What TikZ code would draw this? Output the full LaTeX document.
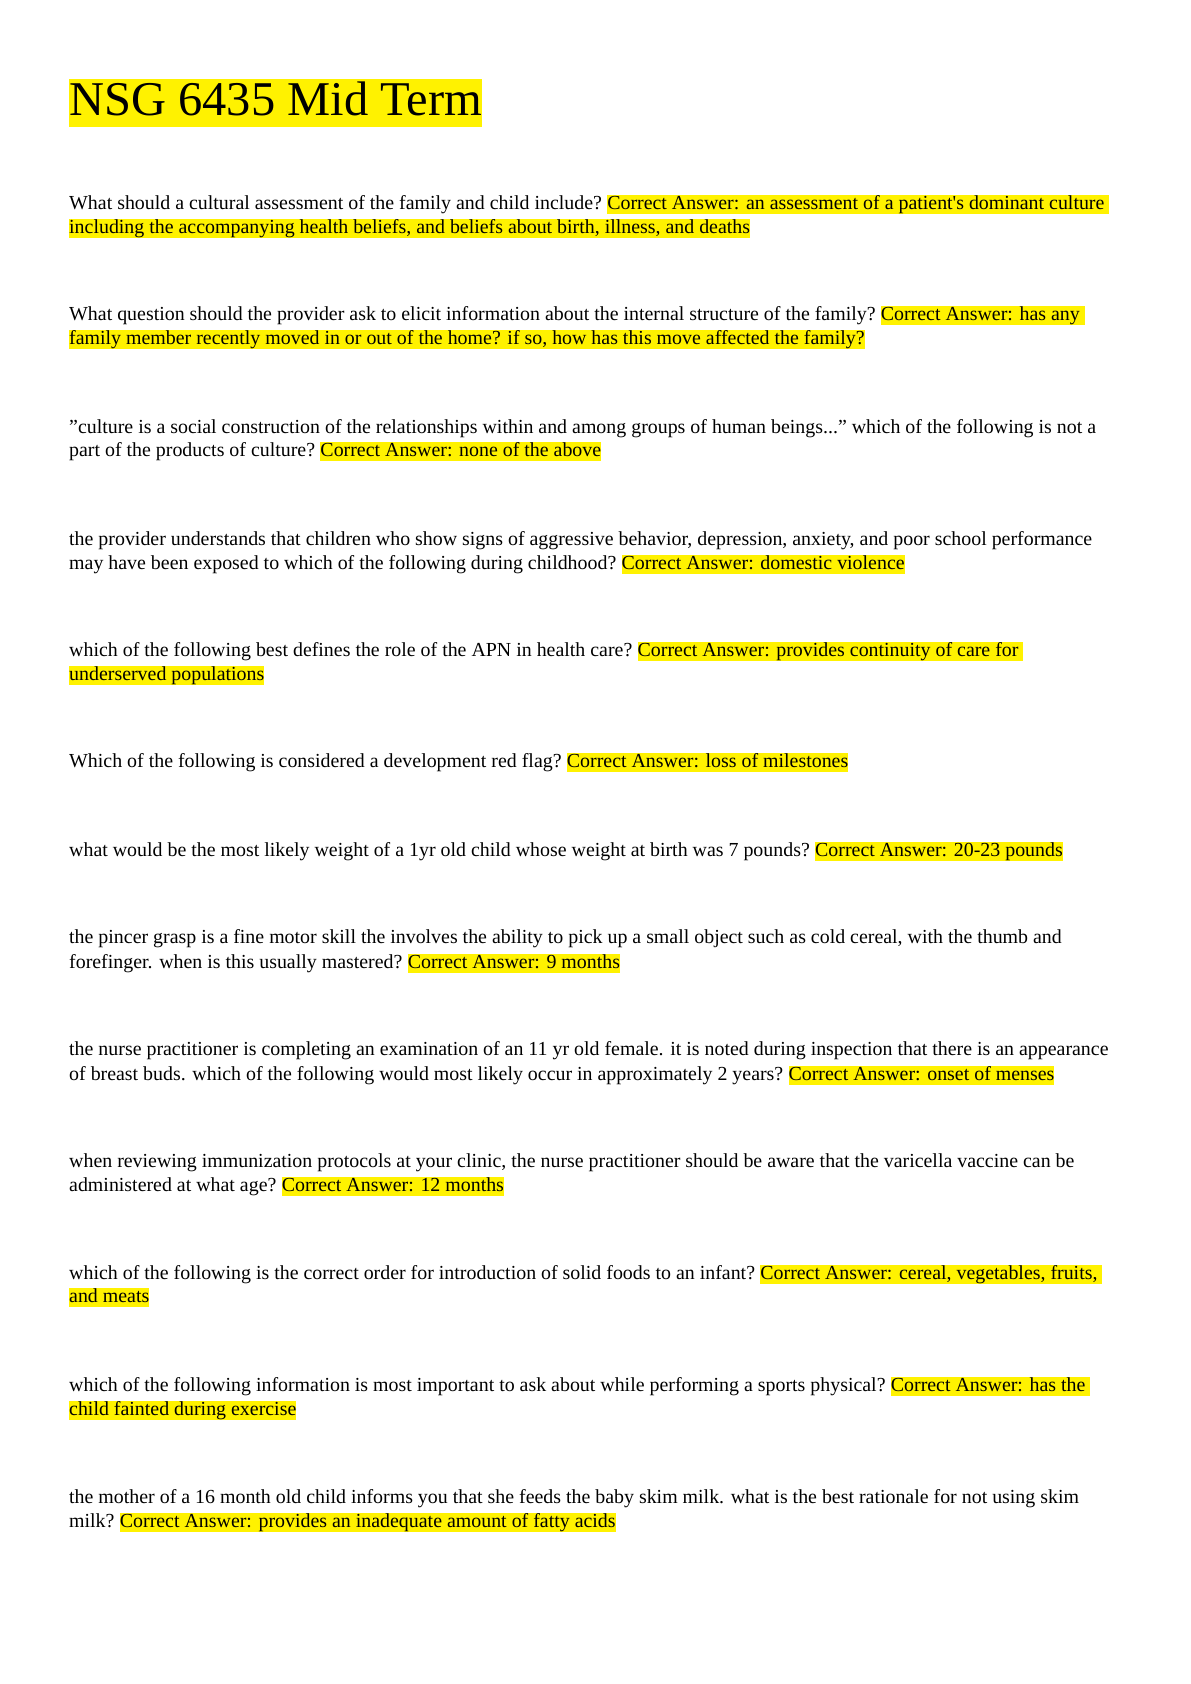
\documentclass[tikz,border=0pt]{standalone}
\usepackage{fontspec}
\setmainfont{Liberation Serif}
\begin{document}
\begin{tikzpicture}[x=1pt,y=-1pt,
  q/.style={anchor=base west,inner sep=0pt,font=\fontsize{19.9}{24}\selectfont},
  ans/.style={anchor=base west,inner xsep=0pt,inner ysep=0pt,fill=yellow,text height=14.5pt,text depth=5pt,font=\fontsize{19.9}{24}\selectfont},
  nx/.style={xshift=5pt}]
\useasboundingbox (0,0) rectangle (1191,1684);
\node[anchor=base west,inner xsep=0pt,inner ysep=0pt,fill=yellow,text height=36pt,text depth=12pt,font=\fontsize{48.5}{55}\selectfont] (title) at (69,115) {NSG 6435 Mid Term};
% Q1
\node[q] (q1) at (69,209) {What should a cultural assessment of the family and child include?};
\node[ans] (a1) at ([nx]q1.base east) {Correct Answer: an assessment of a patient\textquotesingle s dominant culture\ \strut};
\node[ans] (a1b) at (69,233) {including the accompanying health beliefs, and beliefs about birth, illness, and deaths};
% Q2
\node[q] (q2) at (69,320) {What question should the provider ask to elicit information about the internal structure of the family?};
\node[ans] (a2) at ([nx]q2.base east) {Correct Answer: has any\ \strut};
\node[ans] (a2b) at (69,344) {family member recently moved in or out of the home? if so, how has this move affected the family?};
% Q3
\node[q] (q3) at (69,433) {\symbol{34}culture is a social construction of the relationships within and among groups of human beings...\symbol{34} which of the following is not a};
\node[q] (q3b) at (69,456) {part of the products of culture?};
\node[ans] (a3) at ([nx]q3b.base east) {Correct Answer: none of the above};
% Q4
\node[q] (q4) at (69,545) {the provider understands that children who show signs of aggressive behavior, depression, anxiety, and poor school performance};
\node[q] (q4b) at (69,569) {may have been exposed to which of the following during childhood?};
\node[ans] (a4) at ([nx]q4b.base east) {Correct Answer: domestic violence};
% Q5
\node[q] (q5) at (69,656) {which of the following best defines the role of the APN in health care?};
\node[ans] (a5) at ([nx]q5.base east) {Correct Answer: provides continuity of care for\ \strut};
\node[ans] (a5b) at (69,680) {underserved populations};
% Q6
\node[q] (q6) at (69,767) {Which of the following is considered a development red flag?};
\node[ans] (a6) at ([nx]q6.base east) {Correct Answer: loss of milestones};
% Q7
\node[q] (q7) at (69,856) {what would be the most likely weight of a 1yr old child whose weight at birth was 7 pounds?};
\node[ans] (a7) at ([nx]q7.base east) {Correct Answer: 20-23 pounds};
% Q8
\node[q] (q8) at (69,943) {the pincer grasp is a fine motor skill the involves the ability to pick up a small object such as cold cereal, with the thumb and};
\node[q] (q8b) at (69,968) {forefinger. when is this usually mastered?};
\node[ans] (a8) at ([nx]q8b.base east) {Correct Answer: 9 months};
% Q9
\node[q] (q9) at (69,1055) {the nurse practitioner is completing an examination of an 11 yr old female. it is noted during inspection that there is an appearance};
\node[q] (q9b) at (69,1080) {of breast buds. which of the following would most likely occur in approximately 2 years?};
\node[ans] (a9) at ([nx]q9b.base east) {Correct Answer: onset of menses};
% Q10
\node[q] (q10) at (69,1167) {when reviewing immunization protocols at your clinic, the nurse practitioner should be aware that the varicella vaccine can be};
\node[q] (q10b) at (69,1191) {administered at what age?};
\node[ans] (a10) at ([nx]q10b.base east) {Correct Answer: 12 months};
% Q11
\node[q] (q11) at (69,1279) {which of the following is the correct order for introduction of solid foods to an infant?};
\node[ans] (a11) at ([nx]q11.base east) {Correct Answer: cereal, vegetables, fruits,\ \strut};
\node[ans] (a11b) at (69,1302) {and meats};
% Q12
\node[q] (q12) at (69,1391) {which of the following information is most important to ask about while performing a sports physical?};
\node[ans] (a12) at ([nx]q12.base east) {Correct Answer: has the\ \strut};
\node[ans] (a12b) at (69,1415) {child fainted during exercise};
% Q13
\node[q] (q13) at (69,1503) {the mother of a 16 month old child informs you that she feeds the baby skim milk. what is the best rationale for not using skim};
\node[q] (q13b) at (69,1527) {milk?};
\node[ans] (a13) at ([nx]q13b.base east) {Correct Answer: provides an inadequate amount of fatty acids};
\end{tikzpicture}
\end{document}
